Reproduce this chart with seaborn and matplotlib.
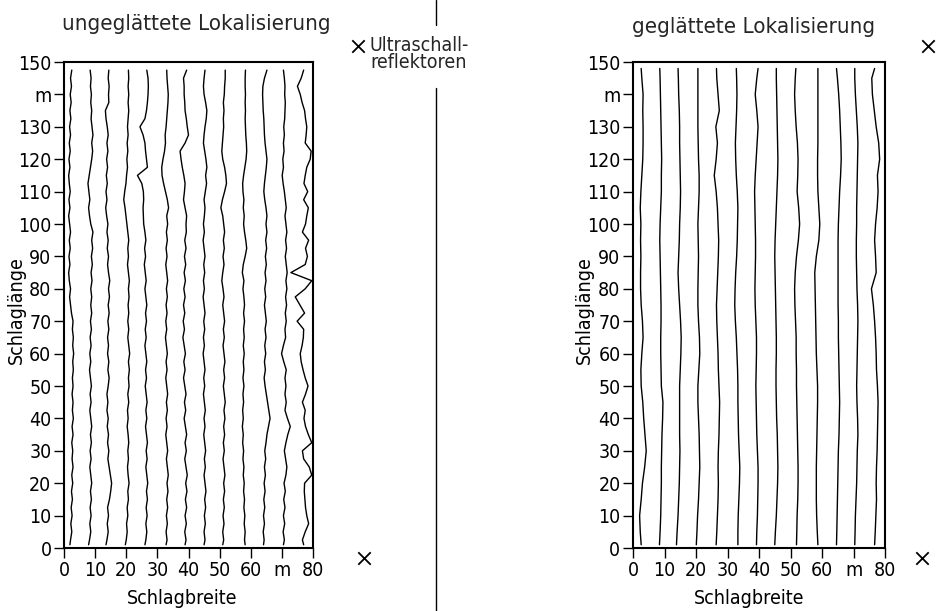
import numpy as np
import pandas as pd
import matplotlib
matplotlib.use("Agg")
import matplotlib.pyplot as plt
from matplotlib.lines import Line2D
import seaborn as sns

# sample heights along the field (m)
y_raw = np.r_[1.0, np.arange(2.5, 150, 2.5)]
y_smooth = np.r_[1.0, np.arange(5, 150, 5), 148.0]

# unsmoothed tracks: x position (m) at each height of y_raw
raw_t01 = [1.9, 2.1, 2.5, 2.2, 2.6, 2.3, 2.7, 2.4, 2.8, 2.5, 2.9, 2.6, 2.8, 2.5, 2.9, 2.6, 3.0, 2.7, 2.9, 2.6,
           2.9, 2.7, 3.0, 2.8, 3.1, 2.8, 3.0, 2.7, 2.9, 2.4, 2.1, 1.8, 2.1, 1.7, 1.5, 1.9, 1.6, 2.0, 1.7, 2.1,
           1.8, 1.5, 1.9, 1.6, 2.0, 1.7, 1.5, 1.9, 1.6, 2.0, 1.7, 2.1, 1.8, 2.2, 1.9, 2.3, 2.0, 2.4, 2.1, 2.5]
raw_t02 = [7.9, 8.2, 8.6, 8.3, 8.7, 8.4, 8.8, 8.5, 8.9, 8.6, 8.3, 8.7, 8.4, 8.8, 8.5, 8.9, 8.6, 8.3, 8.7, 8.4,
           8.8, 8.5, 8.2, 8.6, 8.3, 8.7, 8.4, 8.8, 8.5, 8.9, 8.6, 8.9, 8.6, 9.0, 8.7, 9.1, 8.8, 9.2, 8.9, 9.3,
           8.6, 8.2, 7.9, 8.3, 8.0, 7.7, 8.1, 8.5, 8.9, 9.2, 8.9, 9.3, 9.0, 8.7, 8.9, 8.6, 8.8, 8.5, 8.7, 8.4]
raw_t03 = [13.5, 13.8, 14.2, 13.9, 14.3, 14.0, 14.6, 15.0, 15.3, 14.9, 14.5, 14.1, 14.4, 14.0, 14.3, 13.9, 14.2, 13.8, 14.1, 13.8,
           14.2, 14.5, 14.1, 14.4, 14.0, 14.3, 14.0, 14.4, 14.1, 14.5, 14.2, 14.6, 14.3, 14.7, 14.3, 14.0, 14.3, 13.9, 14.2, 13.8,
           14.1, 13.7, 13.4, 13.8, 13.5, 13.9, 13.6, 14.0, 13.7, 14.1, 13.8, 14.2, 13.9, 13.5, 13.3, 14.4, 14.3, 14.5, 14.2, 14.4]
raw_t04 = [19.7, 20.0, 20.3, 20.1, 20.5, 20.3, 20.7, 20.5, 20.9, 20.6, 20.4, 20.7, 20.5, 20.8, 20.6, 20.3, 20.6, 20.4, 20.8, 20.5,
           20.9, 20.7, 21.0, 20.7, 21.1, 20.8, 20.5, 20.8, 20.5, 20.8, 20.6, 20.9, 20.7, 21.0, 20.7, 20.4, 20.7, 20.5, 20.8, 20.5,
           20.2, 19.9, 19.6, 19.2, 19.5, 19.9, 20.1, 20.4, 20.2, 20.5, 20.3, 20.6, 20.4, 20.6, 20.8, 20.6, 20.8, 20.6, 20.8, 20.7]
raw_t05 = [26.0, 26.3, 26.6, 26.3, 26.7, 26.4, 26.8, 26.5, 26.9, 26.6, 26.3, 26.7, 26.4, 26.8, 26.5, 26.2, 26.6, 26.3, 26.7, 26.4,
           26.1, 26.5, 26.2, 26.6, 26.3, 26.0, 26.4, 26.1, 26.5, 26.2, 26.6, 26.3, 26.0, 26.4, 26.1, 25.8, 26.2, 25.9, 26.3, 26.0,
           25.6, 25.5, 25.4, 25.6, 25.5, 25.0, 23.6, 26.8, 26.5, 26.2, 26.0, 25.4, 24.4, 26.0, 26.5, 26.8, 27.0, 27.1, 27.0, 26.6]
raw_t06 = [32.8, 33.1, 32.8, 33.2, 32.9, 33.3, 33.0, 33.4, 33.1, 33.5, 33.2, 32.9, 33.3, 33.0, 32.7, 33.1, 32.8, 33.2, 32.9, 33.3,
           33.0, 32.7, 33.1, 32.8, 33.2, 32.9, 32.6, 33.0, 32.7, 33.1, 32.8, 33.2, 32.9, 33.3, 33.0, 32.7, 33.1, 32.8, 33.2, 32.9,
           33.3, 33.0, 33.6, 33.2, 32.6, 32.0, 31.5, 31.4, 31.8, 32.3, 32.6, 32.5, 32.8, 33.0, 33.2, 33.4, 33.5, 33.3, 33.1, 33.0]
raw_t07 = [38.9, 39.2, 38.8, 39.3, 38.9, 39.4, 39.0, 39.5, 39.1, 39.6, 39.2, 38.8, 39.3, 38.9, 39.4, 39.0, 38.6, 39.1, 38.7, 39.2,
           38.8, 38.4, 38.9, 38.5, 39.0, 38.6, 38.2, 38.7, 38.3, 38.8, 38.4, 38.9, 38.5, 39.0, 38.6, 39.1, 38.7, 39.2, 38.8, 39.3,
           39.2, 39.4, 38.9, 38.4, 38.7, 38.9, 38.5, 38.0, 37.6, 37.3, 38.9, 40.0, 39.6, 39.3, 38.9, 38.8, 38.6, 38.6, 38.4, 39.4]
raw_t08 = [45.0, 45.3, 45.0, 45.4, 45.1, 45.5, 45.2, 45.6, 45.3, 45.0, 45.4, 45.1, 45.5, 45.2, 44.9, 45.3, 45.0, 45.4, 45.1, 44.8,
           45.2, 44.9, 45.3, 45.0, 44.7, 45.1, 44.8, 45.2, 44.9, 45.3, 45.0, 44.7, 45.1, 44.8, 45.2, 44.9, 45.3, 45.0, 44.7, 45.1,
           44.8, 45.1, 45.3, 45.0, 45.4, 45.8, 45.5, 45.9, 45.6, 45.2, 44.8, 45.0, 45.3, 45.7, 45.9, 45.5, 45.0, 44.8, 45.0, 45.3]
raw_t09 = [51.0, 51.3, 51.0, 51.4, 51.1, 51.5, 51.2, 51.6, 51.3, 51.7, 51.4, 51.1, 51.5, 51.2, 51.6, 51.3, 51.7, 51.4, 51.8, 51.5,
           51.2, 51.6, 51.3, 51.7, 51.4, 51.1, 51.5, 51.2, 51.6, 51.3, 51.0, 51.4, 51.1, 50.7, 51.0, 51.4, 51.1, 51.5, 51.2, 51.6,
           51.3, 51.0, 50.4, 50.9, 51.6, 52.2, 52.0, 51.6, 51.0, 50.7, 50.9, 51.1, 51.3, 51.2, 51.4, 51.2, 51.5, 51.6, 51.8, 51.8]
raw_t10 = [58.2, 58.0, 58.2, 57.9, 58.1, 57.8, 58.0, 57.7, 57.9, 57.6, 57.8, 57.5, 57.7, 57.4, 57.6, 57.3, 57.6, 57.4, 57.7, 57.5,
           57.8, 57.5, 57.8, 57.6, 57.9, 57.6, 57.9, 57.7, 58.0, 57.7, 58.0, 57.8, 57.5, 57.8, 57.3, 57.6, 58.2, 58.7, 58.4, 58.0,
           57.7, 57.9, 57.6, 57.8, 57.5, 57.4, 57.7, 58.1, 58.5, 58.7, 58.6, 58.4, 58.3, 58.2, 58.3, 58.2, 58.3, 58.2, 58.2, 58.3]
raw_t11 = [64.1, 64.3, 64.0, 64.4, 64.1, 64.5, 64.2, 64.6, 64.3, 64.7, 64.4, 64.8, 64.5, 64.9, 65.2, 65.7, 66.2, 65.8, 65.4, 65.0,
           64.6, 64.3, 64.7, 64.4, 64.8, 64.5, 64.9, 64.6, 65.0, 64.7, 64.4, 64.8, 64.5, 64.9, 64.6, 65.0, 64.7, 65.1, 64.8, 65.2,
           64.9, 65.2, 64.9, 64.5, 64.2, 64.4, 64.7, 65.0, 65.2, 64.9, 64.6, 64.4, 64.3, 64.2, 64.0, 63.9, 63.8, 63.9, 64.4, 65.2]
raw_t12 = [70.5, 70.8, 70.4, 70.9, 70.5, 71.0, 70.6, 71.1, 70.7, 71.3, 71.6, 71.2, 70.8, 71.3, 71.9, 72.7, 71.8, 71.0, 71.4, 71.0,
           71.3, 71.0, 71.4, 70.6, 69.9, 70.5, 71.2, 71.0, 71.4, 71.1, 71.5, 71.2, 71.6, 71.3, 71.7, 71.4, 71.1, 71.5, 71.2, 71.6,
           71.3, 71.0, 71.4, 71.1, 70.8, 70.4, 70.1, 70.5, 70.3, 70.7, 70.5, 70.8, 70.6, 70.9, 71.0, 71.1, 70.9, 71.0, 70.8, 70.5]
raw_t13 = [77.0, 76.6, 77.5, 78.6, 78.0, 77.6, 77.4, 77.2, 77.3, 79.6, 78.8, 77.0, 76.6, 79.6, 78.5, 77.6, 77.1, 77.5, 76.6, 77.6,
           78.4, 77.5, 76.8, 76.2, 75.9, 76.5, 76.9, 77.0, 74.9, 77.3, 75.8, 74.3, 77.5, 79.6, 72.9, 77.5, 78.2, 77.6, 78.6, 76.6,
           77.6, 78.0, 78.5, 77.0, 78.3, 77.1, 77.5, 78.0, 79.1, 79.4, 77.5, 77.8, 78.0, 77.6, 77.3, 76.5, 75.9, 75.0, 76.2, 77.0]

# smoothed tracks: x position (m) at each height of y_smooth
smooth_t01 = [2.6, 2.3, 2.1, 2.6, 3.0, 3.7, 4.2, 3.8, 3.4, 3.1, 2.6, 2.5, 2.8, 3.2, 3.0, 2.6, 2.4, 2.4, 2.5, 2.4,
              2.5, 2.3, 2.5, 2.8, 3.1, 3.2, 3.2, 3.1, 3.2, 2.8, 2.6]
smooth_t02 = [8.4, 8.6, 8.8, 8.9, 9.0, 9.0, 9.1, 9.2, 9.4, 9.5, 9.0, 8.9, 8.8, 8.8, 8.9, 8.9, 8.8, 8.7, 8.6, 8.5,
              8.6, 8.8, 9.0, 9.0, 9.1, 9.0, 8.9, 8.8, 8.7, 8.6, 8.5]
smooth_t03 = [13.8, 14.0, 14.3, 14.5, 14.7, 14.8, 14.9, 14.8, 14.8, 14.8, 14.8, 15.0, 15.2, 15.3, 15.1, 14.8, 14.5, 14.3, 14.5, 14.7,
              14.8, 15.0, 15.1, 15.0, 14.9, 14.8, 14.8, 14.7, 14.5, 14.4, 14.3]
smooth_t04 = [20.1, 20.3, 20.5, 20.8, 21.0, 21.2, 21.1, 21.0, 20.8, 20.6, 20.6, 20.9, 21.2, 21.1, 20.8, 20.6, 20.6, 20.7, 20.8, 20.7,
              20.6, 20.8, 21.0, 21.0, 20.8, 20.7, 20.6, 20.6, 20.6, 20.6, 20.6]
smooth_t05 = [26.4, 26.6, 26.8, 27.0, 27.1, 27.0, 27.1, 27.3, 27.4, 27.5, 27.3, 27.1, 27.0, 26.8, 26.6, 26.5, 26.7, 26.9, 27.1, 27.2,
              27.0, 26.8, 26.4, 25.8, 26.4, 26.8, 26.3, 27.4, 27.0, 26.6, 26.5]
smooth_t06 = [33.3, 33.3, 33.4, 33.6, 33.8, 33.9, 33.7, 33.5, 33.4, 33.3, 33.3, 33.2, 33.0, 32.8, 32.5, 32.3, 32.4, 32.6, 32.9, 33.1,
              33.2, 33.3, 33.1, 32.8, 32.6, 32.5, 32.7, 32.9, 33.0, 32.9, 32.8]
smooth_t07 = [39.2, 39.3, 39.5, 39.6, 39.7, 39.7, 39.5, 39.3, 39.2, 39.1, 39.0, 39.1, 39.2, 39.2, 39.0, 38.8, 38.7, 38.8, 38.9, 38.9,
              38.8, 38.7, 38.6, 38.8, 39.1, 39.4, 39.7, 39.3, 38.8, 39.3, 39.7]
smooth_t08 = [45.0, 45.2, 45.5, 45.7, 45.9, 46.0, 45.9, 45.8, 45.6, 45.5, 45.4, 45.4, 45.5, 45.5, 45.4, 45.3, 45.2, 45.1, 45.0, 45.1,
              45.3, 45.5, 45.7, 45.9, 46.0, 45.9, 45.8, 45.7, 45.6, 45.5, 45.5]
smooth_t09 = [51.9, 52.0, 52.1, 52.3, 52.4, 52.4, 52.3, 52.2, 52.1, 52.0, 51.9, 51.9, 51.8, 51.8, 51.6, 51.4, 51.3, 51.5, 51.9, 52.5,
              52.9, 52.6, 52.1, 52.3, 52.4, 52.2, 51.8, 51.5, 51.3, 51.5, 51.7]
smooth_t10 = [58.7, 58.5, 58.3, 58.2, 58.2, 58.2, 58.3, 58.4, 58.5, 58.6, 58.6, 58.4, 58.2, 58.1, 58.0, 57.9, 57.8, 57.7, 58.2, 59.0,
              59.3, 59.0, 58.7, 58.6, 58.6, 58.7, 58.7, 58.7, 58.7, 58.7, 58.7]
smooth_t11 = [64.6, 64.7, 64.8, 64.9, 65.0, 65.1, 65.2, 65.4, 65.5, 65.6, 65.5, 65.4, 65.3, 65.2, 65.2, 65.1, 65.1, 65.1, 65.1, 65.1,
              65.2, 65.4, 65.6, 65.9, 66.1, 66.0, 65.8, 65.6, 65.3, 64.9, 64.6]
smooth_t12 = [70.4, 70.5, 70.6, 70.8, 71.0, 71.1, 71.2, 71.4, 71.3, 71.1, 71.0, 71.1, 71.2, 71.3, 71.4, 71.3, 71.1, 71.0, 70.9, 70.9,
              71.0, 71.0, 71.1, 71.2, 71.3, 71.4, 71.2, 70.9, 70.6, 70.4, 70.4]
smooth_t13 = [76.7, 76.9, 77.1, 77.3, 77.2, 77.3, 77.5, 77.6, 77.7, 77.8, 77.6, 77.3, 77.2, 77.0, 76.7, 76.3, 75.7, 77.2, 77.0, 76.7,
              77.0, 77.5, 77.8, 77.6, 78.3, 78.0, 77.2, 76.6, 76.0, 75.8, 76.7]

# ultrasonic reflectors (outside the field)
refl_left_x = [94.5, 96.5]
refl_right_x = [93.7, 91.7]
refl_y = [155, -3]

x_ticks = [0, 10, 20, 30, 40, 50, 60, 70, 80]
x_ticklabels = ["0", "10", "20", "30", "40", "50", "60", "m", "80"]
y_ticks = [0, 10, 20, 30, 40, 50, 60, 70, 80, 90, 100, 110, 120, 130, 140, 150]
y_ticklabels = ["0", "10", "20", "30", "40", "50", "60", "70", "80", "90",
                "100", "110", "120", "130", "m", "150"]


def tracks_frame(tracks, heights):
    parts = []
    for i, xs in enumerate(tracks):
        parts.append(pd.DataFrame({"x": xs, "y": heights, "track": i}))
    return pd.concat(parts, ignore_index=True)


raw_df = tracks_frame([raw_t01, raw_t02, raw_t03, raw_t04, raw_t05, raw_t06, raw_t07,
                       raw_t08, raw_t09, raw_t10, raw_t11, raw_t12, raw_t13], y_raw)
smooth_df = tracks_frame([smooth_t01, smooth_t02, smooth_t03, smooth_t04, smooth_t05, smooth_t06, smooth_t07,
                          smooth_t08, smooth_t09, smooth_t10, smooth_t11, smooth_t12, smooth_t13], y_smooth)

sns.set_style("ticks")
plt.rcParams["font.family"] = ["DejaVu Sans"]
plt.rcParams["font.stretch"] = "condensed"

fig = plt.figure(figsize=(9.38, 6.11), dpi=100)
ax1 = fig.add_axes([64 / 938, 1 - 548 / 611, 249 / 938, 486 / 611])
ax2 = fig.add_axes([633 / 938, 1 - 548 / 611, 252 / 938, 486 / 611])


def draw_panel(ax, df, refl_x, title, title_x, title_y, xlab_x):
    sns.lineplot(data=df, x="x", y="y", units="track", estimator=None, sort=False,
                 color="black", lw=1.0, ax=ax, legend=False)
    sns.scatterplot(x=refl_x, y=refl_y, marker="x", color="black", s=80,
                    linewidth=1.3, ax=ax, clip_on=False)
    ax.set(xlim=(0, 80), ylim=(0, 150))
    ax.set_xticks(x_ticks)
    ax.set_xticklabels(x_ticklabels)
    ax.set_yticks(y_ticks)
    ax.set_yticklabels(y_ticklabels)
    ax.tick_params(direction="out", length=7, width=1.0, labelsize=14, pad=2, colors="black")
    for sp in ax.spines.values():
        sp.set_visible(True)
        sp.set_linewidth(1.5)
        sp.set_color("black")
    ax.set_xlabel("Schlagbreite", fontsize=14, color="black")
    ax.set_ylabel("Schlaglänge", fontsize=14, color="black")
    ax.xaxis.set_label_coords(xlab_x, -0.085)
    ax.yaxis.set_label_coords(-0.155, 0.49)
    ax.text(title_x, title_y, title, transform=ax.transAxes, ha="center", va="center", fontsize=16)


draw_panel(ax1, raw_df, refl_left_x, "ungeglättete Lokalisierung", 0.53, 1.078, 0.474)
draw_panel(ax2, smooth_df, refl_right_x, "geglättete Lokalisierung", 0.48, 1.072, 0.46)

# legend text next to the reflector mark, and the divider between the panels
fig.text(419 / 938, 1 - 54 / 611, "Ultraschall-\nreflektoren", ha="center", va="center",
         fontsize=14, linespacing=0.9)
fig.add_artist(Line2D([436 / 938, 436 / 938], [1, 1 - 25 / 611], color="black", lw=1.0))
fig.add_artist(Line2D([436 / 938, 436 / 938], [1 - 88 / 611, 0], color="black", lw=1.0))

fig.savefig("out.png", dpi=100)
